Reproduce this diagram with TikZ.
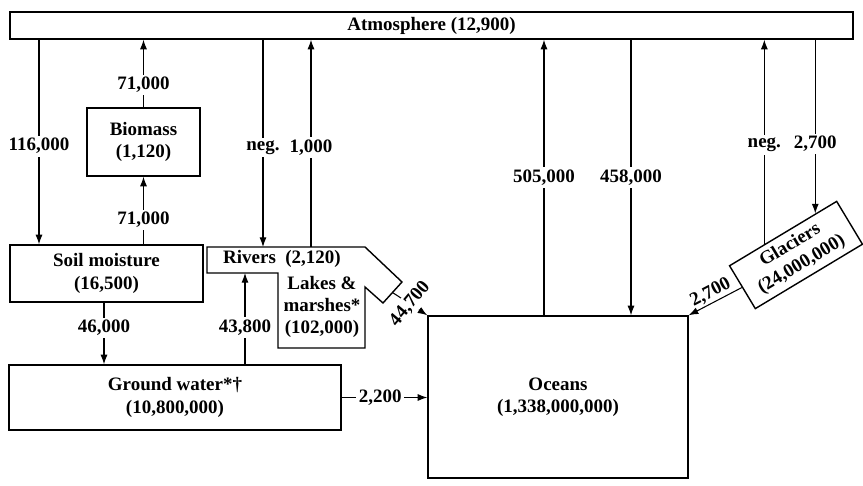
\documentclass[tikz,border=0pt]{standalone}
\usepackage{fontspec}
\setmainfont{Liberation Serif}
\usetikzlibrary{arrows.meta,calc}

\begin{document}
\begin{tikzpicture}[
  x=0.02cm,
  y=-0.02cm,
  boxtext/.style={
    font=\bfseries\fontsize{10.8}{12.6}\selectfont,
    align=center
  },
  store/.style={
    boxtext,
    draw,
    line width=0.8pt,
    inner sep=0pt
  },
  flow/.style={
    line width=0.6pt,
    -{Latex[length=5.5pt,width=4pt]}
  },
  flowlabel/.style={
    boxtext,
    fill=white,
    inner sep=1.5pt
  }
]

% Canvas
\path[use as bounding box] (0,0) rectangle (863,486);

% Stores
\node[store, minimum width=16.86cm, minimum height=0.54cm] (atm) at (431.5,25.5)
  {Atmosphere (12,900)};
\node[store, minimum width=2.26cm, minimum height=1.36cm] (bio) at (143.5,142)
  {Biomass\\(1,120)};
\node[store, minimum width=3.86cm, minimum height=1.14cm] (soil) at (106.5,273.5)
  {Soil moisture\\(16,500)};
\node[store, minimum width=6.64cm, minimum height=1.30cm] (gw) at (175,397.5)
  {Ground water*\textdagger\\(10,800,000)};
\node[store, minimum width=5.2cm, minimum height=3.24cm] (ocean) at (558,397)
  {Oceans\\(1,338,000,000)};
\node[store, minimum width=2.5cm, minimum height=1.0cm, rotate=31] (glac) at (796,255)
  {Glaciers\\(24,000,000)};

% Rivers, lakes and marshes
\draw[line width=0.8pt] (207,247) -- (365,247) -- (402,282) -- (383,303) -- (365,287)
  -- (365,348) -- (278,348) -- (278,273) -- (207,273) -- cycle;
\node[boxtext] (riv) at (282,259) {Rivers\ \ (2,120)};
\node[boxtext] (lake) at (322,307) {Lakes \&\\marshes*\\(102,000)};

% Flow columns and end points
\coordinate (c116) at (39,0);
\coordinate (cneg) at (263,0);
\coordinate (c1k) at (311,0);
\coordinate (c505) at (544,0);
\coordinate (c458) at (631,0);
\coordinate (c46) at (104,0);
\coordinate (c438) at (245,0);
\coordinate (rvtop) at (207,247);
\coordinate (rvbot) at (207,273);
\coordinate (lkout) at (392.5,292.5);
\coordinate (gup) at ($(glac.north west)!0.33!(glac.north east)$);
\coordinate (gdn) at ($(glac.north west)!0.80!(glac.north east)$);

% Atmosphere exchanges
\draw[flow] (atm.south -| c116) -- (soil.north -| c116)
  node[flowlabel, pos=0.52] {116,000};
\draw[flow] (bio.north) -- (atm.south -| bio.north)
  node[flowlabel, pos=0.33] {71,000};
\draw[flow] (soil.north -| bio.south) -- (bio.south)
  node[flowlabel, pos=0.36] {71,000};
\draw[flow] (atm.south -| cneg) -- (rvtop -| cneg)
  node[flowlabel, pos=0.52] {neg.};
\draw[flow] (rvtop -| c1k) -- (atm.south -| c1k)
  node[flowlabel, pos=0.48] {1,000};
\draw[flow] (ocean.north -| c505) -- (atm.south -| c505)
  node[flowlabel, pos=0.50] {505,000};
\draw[flow] (atm.south -| c458) -- (ocean.north -| c458)
  node[flowlabel, pos=0.50] {458,000};
\draw[flow] (gup) -- (atm.south -| gup)
  node[flowlabel, pos=0.485] {neg.};
\draw[flow] (atm.south -| gdn) -- (gdn)
  node[flowlabel, pos=0.6] {2,700};

% Ground flows
\draw[flow] (soil.south -| c46) -- (gw.north -| c46)
  node[flowlabel, pos=0.41] {46,000};
\draw[flow] (gw.north -| c438) -- (rvbot -| c438)
  node[flowlabel, pos=0.4] {43,800};
\draw[flow] (gw.east) -- (gw.east -| ocean.west)
  node[flowlabel, pos=0.45] {2,200};

% Runoff to the oceans
\draw[flow] (lkout) -- (ocean.north west)
  node[flowlabel, midway, rotate=50] {44,700};
\draw[flow] (glac.west) -- (ocean.north east)
  node[boxtext, midway, sloped, above, inner sep=1pt] {2,700};

\end{tikzpicture}
\end{document}
